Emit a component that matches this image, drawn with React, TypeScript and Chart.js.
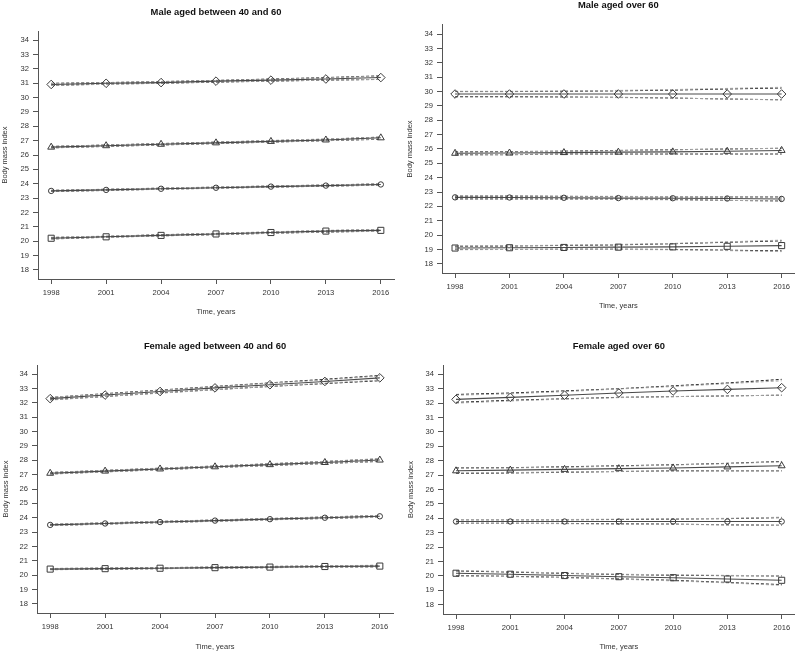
import React, { useEffect, useRef } from "react";
import { Chart, registerables } from "chart.js";

Chart.register(...registerables);

// ---------- axes ----------
const YEARS = [1998, 2001, 2004, 2007, 2010, 2013, 2016];
const Y_TICKS = [18, 19, 20, 21, 22, 23, 24, 25, 26, 27, 28, 29, 30, 31, 32, 33, 34];
const X_MIN = 1997.28;
const X_MAX = 2016.72;
const Y_MIN = 17.36;
const Y_MAX = 34.64;

const TITLES = [
  "Male aged between 40 and 60",
  "Male aged over 60",
  "Female aged between 40 and 60",
  "Female aged over 60",
];
const X_TITLE = "Time, years";
const Y_TITLE = "Body mass index";

// ---------- Panel 1: Male aged between 40 and 60 ----------
const m40_sq = [20.2, 20.3, 20.4, 20.5, 20.6, 20.7, 20.75];
const m40_sq_kLo = [20.15, 20.27, 20.37, 20.45, 20.55, 20.63, 20.7];
const m40_sq_kHi = [20.25, 20.33, 20.45, 20.53, 20.63, 20.73, 20.8];
const m40_sq_gLo = [20.17, 20.26, 20.36, 20.46, 20.54, 20.64, 20.68];
const m40_sq_gHi = [20.27, 20.35, 20.43, 20.55, 20.65, 20.75, 20.82];
const m40_ci = [23.5, 23.57, 23.65, 23.72, 23.8, 23.87, 23.95];
const m40_ci_kLo = [23.46, 23.53, 23.62, 23.69, 23.76, 23.83, 23.9];
const m40_ci_kHi = [23.54, 23.61, 23.69, 23.76, 23.84, 23.91, 23.99];
const m40_ci_gLo = [23.47, 23.54, 23.61, 23.68, 23.76, 23.84, 23.9];
const m40_ci_gHi = [23.53, 23.62, 23.7, 23.77, 23.85, 23.91, 24.0];
const m40_tr = [26.55, 26.65, 26.75, 26.85, 26.95, 27.05, 27.2];
const m40_tr_kLo = [26.5, 26.6, 26.7, 26.8, 26.9, 27.0, 27.1];
const m40_tr_kHi = [26.6, 26.7, 26.8, 26.9, 27.0, 27.1, 27.25];
const m40_tr_gLo = [26.5, 26.61, 26.71, 26.81, 26.9, 27.0, 27.12];
const m40_tr_gHi = [26.6, 26.7, 26.8, 26.9, 27.02, 27.12, 27.25];
const m40_di = [30.92, 31.0, 31.05, 31.15, 31.22, 31.3, 31.4];
const m40_di_kLo = [30.85, 30.95, 31.0, 31.08, 31.15, 31.22, 31.27];
const m40_di_kHi = [31.0, 31.05, 31.12, 31.2, 31.3, 31.4, 31.52];
const m40_di_gLo = [30.85, 30.93, 31.0, 31.1, 31.15, 31.22, 31.28];
const m40_di_gHi = [30.98, 31.05, 31.12, 31.2, 31.28, 31.38, 31.5];

// ---------- Panel 2: Male aged over 60 ----------
const m60_sq = [19.1, 19.12, 19.14, 19.16, 19.18, 19.22, 19.27];
const m60_sq_kLo = [19.0, 19.0, 19.02, 19.02, 19.0, 18.95, 18.9];
const m60_sq_kHi = [19.22, 19.24, 19.28, 19.32, 19.4, 19.5, 19.6];
const m60_sq_gLo = [18.98, 19.0, 19.0, 19.0, 18.98, 18.92, 18.85];
const m60_sq_gHi = [19.24, 19.26, 19.3, 19.35, 19.42, 19.53, 19.65];
const m60_ci = [22.63, 22.62, 22.6, 22.58, 22.57, 22.55, 22.52];
const m60_ci_kLo = [22.52, 22.52, 22.52, 22.5, 22.48, 22.42, 22.38];
const m60_ci_kHi = [22.72, 22.72, 22.7, 22.68, 22.66, 22.66, 22.66];
const m60_ci_gLo = [22.5, 22.5, 22.5, 22.48, 22.46, 22.42, 22.38];
const m60_ci_gHi = [22.75, 22.74, 22.7, 22.7, 22.68, 22.68, 22.66];
const m60_tr = [25.7, 25.72, 25.75, 25.78, 25.8, 25.84, 25.9];
const m60_tr_kLo = [25.6, 25.6, 25.65, 25.65, 25.65, 25.65, 25.65];
const m60_tr_kHi = [25.8, 25.82, 25.85, 25.9, 25.95, 26.0, 26.05];
const m60_tr_gLo = [25.58, 25.62, 25.64, 25.66, 25.66, 25.66, 25.65];
const m60_tr_gHi = [25.78, 25.8, 25.84, 25.88, 25.94, 26.0, 26.05];
const m60_di = [29.83, 29.83, 29.83, 29.83, 29.83, 29.83, 29.83];
const m60_di_kLo = [29.65, 29.65, 29.62, 29.6, 29.55, 29.48, 29.43];
const m60_di_kHi = [30.0, 30.0, 30.02, 30.05, 30.1, 30.18, 30.25];
const m60_di_gLo = [29.62, 29.62, 29.6, 29.58, 29.55, 29.48, 29.42];
const m60_di_gHi = [30.02, 30.02, 30.04, 30.08, 30.14, 30.22, 30.3];

// ---------- Panel 3: Female aged between 40 and 60 ----------
const f40_sq = [20.42, 20.45, 20.48, 20.52, 20.56, 20.6, 20.63];
const f40_sq_kLo = [20.38, 20.41, 20.45, 20.49, 20.52, 20.56, 20.58];
const f40_sq_kHi = [20.46, 20.49, 20.52, 20.56, 20.6, 20.64, 20.68];
const f40_sq_gLo = [20.39, 20.42, 20.45, 20.48, 20.52, 20.55, 20.59];
const f40_sq_gHi = [20.46, 20.48, 20.52, 20.56, 20.61, 20.65, 20.69];
const f40_ci = [23.5, 23.6, 23.7, 23.8, 23.9, 24.0, 24.1];
const f40_ci_kLo = [23.46, 23.56, 23.66, 23.76, 23.86, 23.95, 24.04];
const f40_ci_kHi = [23.54, 23.64, 23.74, 23.84, 23.94, 24.05, 24.15];
const f40_ci_gLo = [23.45, 23.55, 23.65, 23.75, 23.85, 23.95, 24.03];
const f40_ci_gHi = [23.55, 23.65, 23.75, 23.85, 23.95, 24.06, 24.16];
const f40_tr = [27.1, 27.25, 27.4, 27.55, 27.7, 27.85, 28.02];
const f40_tr_kLo = [27.05, 27.2, 27.35, 27.5, 27.64, 27.78, 27.93];
const f40_tr_kHi = [27.15, 27.3, 27.45, 27.6, 27.76, 27.92, 28.1];
const f40_tr_gLo = [27.04, 27.19, 27.34, 27.49, 27.63, 27.78, 27.92];
const f40_tr_gHi = [27.16, 27.31, 27.46, 27.61, 27.77, 27.93, 28.12];
const f40_di = [32.3, 32.55, 32.8, 33.05, 33.27, 33.5, 33.75];
const f40_di_kLo = [32.22, 32.45, 32.7, 32.93, 33.15, 33.35, 33.55];
const f40_di_kHi = [32.38, 32.65, 32.9, 33.15, 33.4, 33.65, 33.92];
const f40_di_gLo = [32.2, 32.45, 32.68, 32.92, 33.15, 33.38, 33.6];
const f40_di_gHi = [32.4, 32.62, 32.88, 33.12, 33.38, 33.6, 33.88];

// ---------- Panel 4: Female aged over 60 ----------
const f60_sq = [20.19, 20.12, 20.03, 19.95, 19.88, 19.79, 19.7];
const f60_sq_kLo = [20.02, 19.98, 19.9, 19.8, 19.7, 19.55, 19.4];
const f60_sq_kHi = [20.35, 20.27, 20.18, 20.1, 20.05, 20.02, 20.0];
const f60_sq_gLo = [20.0, 19.96, 19.88, 19.78, 19.66, 19.52, 19.35];
const f60_sq_gHi = [20.38, 20.3, 20.2, 20.12, 20.08, 20.04, 20.02];
const f60_ci = [23.78, 23.78, 23.78, 23.78, 23.78, 23.78, 23.78];
const f60_ci_kLo = [23.66, 23.66, 23.65, 23.62, 23.6, 23.55, 23.52];
const f60_ci_kHi = [23.9, 23.9, 23.9, 23.92, 23.95, 23.98, 24.05];
const f60_ci_gLo = [23.65, 23.65, 23.63, 23.6, 23.58, 23.55, 23.5];
const f60_ci_gHi = [23.92, 23.92, 23.92, 23.94, 23.97, 24.0, 24.08];
const f60_tr = [27.3, 27.35, 27.4, 27.45, 27.5, 27.57, 27.65];
const f60_tr_kLo = [27.12, 27.15, 27.2, 27.25, 27.3, 27.3, 27.3];
const f60_tr_kHi = [27.5, 27.52, 27.58, 27.65, 27.72, 27.82, 27.95];
const f60_tr_gLo = [27.15, 27.18, 27.22, 27.26, 27.28, 27.3, 27.3];
const f60_tr_gHi = [27.48, 27.5, 27.55, 27.62, 27.7, 27.8, 27.92];
const f60_di = [32.26, 32.4, 32.55, 32.7, 32.84, 32.95, 33.07];
const f60_di_kLo = [32.05, 32.2, 32.3, 32.4, 32.45, 32.5, 32.55];
const f60_di_kHi = [32.6, 32.7, 32.85, 33.0, 33.2, 33.4, 33.65];
const f60_di_gLo = [32.0, 32.15, 32.28, 32.38, 32.45, 32.5, 32.55];
const f60_di_gHi = [32.55, 32.65, 32.8, 32.98, 33.15, 33.35, 33.55];

// ---------- assembly ----------
type Series = { mid: number[]; kLo: number[]; kHi: number[]; gLo: number[]; gHi: number[] };

const PANEL_SERIES: Series[][] = [
  [
    { mid: m40_sq, kLo: m40_sq_kLo, kHi: m40_sq_kHi, gLo: m40_sq_gLo, gHi: m40_sq_gHi },
    { mid: m40_ci, kLo: m40_ci_kLo, kHi: m40_ci_kHi, gLo: m40_ci_gLo, gHi: m40_ci_gHi },
    { mid: m40_tr, kLo: m40_tr_kLo, kHi: m40_tr_kHi, gLo: m40_tr_gLo, gHi: m40_tr_gHi },
    { mid: m40_di, kLo: m40_di_kLo, kHi: m40_di_kHi, gLo: m40_di_gLo, gHi: m40_di_gHi },
  ],
  [
    { mid: m60_sq, kLo: m60_sq_kLo, kHi: m60_sq_kHi, gLo: m60_sq_gLo, gHi: m60_sq_gHi },
    { mid: m60_ci, kLo: m60_ci_kLo, kHi: m60_ci_kHi, gLo: m60_ci_gLo, gHi: m60_ci_gHi },
    { mid: m60_tr, kLo: m60_tr_kLo, kHi: m60_tr_kHi, gLo: m60_tr_gLo, gHi: m60_tr_gHi },
    { mid: m60_di, kLo: m60_di_kLo, kHi: m60_di_kHi, gLo: m60_di_gLo, gHi: m60_di_gHi },
  ],
  [
    { mid: f40_sq, kLo: f40_sq_kLo, kHi: f40_sq_kHi, gLo: f40_sq_gLo, gHi: f40_sq_gHi },
    { mid: f40_ci, kLo: f40_ci_kLo, kHi: f40_ci_kHi, gLo: f40_ci_gLo, gHi: f40_ci_gHi },
    { mid: f40_tr, kLo: f40_tr_kLo, kHi: f40_tr_kHi, gLo: f40_tr_gLo, gHi: f40_tr_gHi },
    { mid: f40_di, kLo: f40_di_kLo, kHi: f40_di_kHi, gLo: f40_di_gLo, gHi: f40_di_gHi },
  ],
  [
    { mid: f60_sq, kLo: f60_sq_kLo, kHi: f60_sq_kHi, gLo: f60_sq_gLo, gHi: f60_sq_gHi },
    { mid: f60_ci, kLo: f60_ci_kLo, kHi: f60_ci_kHi, gLo: f60_ci_gLo, gHi: f60_ci_gHi },
    { mid: f60_tr, kLo: f60_tr_kLo, kHi: f60_tr_kHi, gLo: f60_tr_gLo, gHi: f60_tr_gHi },
    { mid: f60_di, kLo: f60_di_kLo, kHi: f60_di_kHi, gLo: f60_di_gLo, gHi: f60_di_gHi },
  ],
];

const MARKERS = ["rect", "circle", "triangle", "rectRot"];
const MARKER_RADII = [4.3, 2.7, 4.0, 4.3];

// layout of each panel (canvas position and plot area inside canvas)
const LAYOUTS = [
  { x: 0, y: 0, w: 400, h: 320, l: 38, r: 394, b: 279, tPadTop: 6.4, tPadBot: 13.4, yTitlePad: 0.8, xTitlePad: 3.5 },
  { x: 400, y: 0, w: 400, h: 320, l: 42, r: 397, b: 273, tPadTop: 0, tPadBot: 13.7, yTitlePad: 5.8, xTitlePad: 9.8 },
  { x: 0, y: 320, w: 400, h: 334, l: 37, r: 393, b: 293, tPadTop: 20.4, tPadBot: 13.4, yTitlePad: 1.2, xTitlePad: 2.8 },
  { x: 400, y: 320, w: 400, h: 334, l: 43, r: 397, b: 294, tPadTop: 21.1, tPadBot: 12.7, yTitlePad: 6.2, xTitlePad: 2.2 },
];

const FONT = "'Liberation Sans', Arial, Helvetica, sans-serif";
const AXIS_COLOR = "#555555";
const TEXT_COLOR = "#333333";

const pts = (arr: number[]) => YEARS.map((x, i) => ({ x, y: arr[i] }));

function buildDatasets(series: Series[]) {
  const ds: any[] = [];
  series.forEach((s, i) => {
    const band = (data: number[], color: string, order: number) => ({
      data: pts(data),
      borderColor: color,
      borderWidth: 1,
      borderDash: [3, 2],
      pointRadius: 0,
      tension: 0,
      fill: false,
      order,
    });
    ds.push(band(s.kLo, "#1a1a1a", 2));
    ds.push(band(s.kHi, "#1a1a1a", 2));
    ds.push(band(s.gLo, "#a6a6a6", 1));
    ds.push(band(s.gHi, "#a6a6a6", 1));
    ds.push({
      data: pts(s.mid),
      borderColor: "#4a4a4a",
      borderWidth: 1.1,
      tension: 0,
      fill: false,
      pointStyle: MARKERS[i],
      pointRadius: MARKER_RADII[i],
      pointBorderColor: "#3a3a3a",
      pointBorderWidth: 1,
      pointBackgroundColor: "rgba(255,255,255,0)",
      order: 0,
    });
  });
  return ds;
}

function Panel({ idx }: { idx: number }) {
  const ref = useRef<HTMLCanvasElement>(null);
  const L = LAYOUTS[idx];
  useEffect(() => {
    if (!ref.current) return;
    const tickFont = { family: FONT, size: 7.6 };
    const titleFont = { family: FONT, size: 7.5 };
    const chart = new Chart(ref.current, {
      type: "line",
      data: { datasets: buildDatasets(PANEL_SERIES[idx]) },
      options: {
        animation: false,
        responsive: false,
        maintainAspectRatio: false,
        events: [],
        layout: { padding: { left: 0, right: L.w - L.r, top: 0, bottom: 0 } },
        plugins: {
          legend: { display: false },
          tooltip: { enabled: false },
          title: {
            display: true,
            text: TITLES[idx],
            fullSize: false,
            color: "#111111",
            font: { family: FONT, size: 9.4, weight: "bold" },
            padding: { top: L.tPadTop, bottom: L.tPadBot },
          },
        },
        scales: {
          x: {
            type: "linear",
            min: X_MIN,
            max: X_MAX,
            afterBuildTicks: (s: any) => {
              s.ticks = YEARS.map((v) => ({ value: v }));
            },
            afterFit: (s: any) => {
              s.height = L.h - L.b;
            },
            ticks: {
              autoSkip: false,
              maxRotation: 0,
              minRotation: 0,
              padding: 4,
              color: TEXT_COLOR,
              font: tickFont,
              callback: (v: any) => String(v),
            },
            grid: {
              display: true,
              drawOnChartArea: false,
              drawTicks: true,
              tickLength: 5,
              color: AXIS_COLOR,
              tickColor: AXIS_COLOR,
            },
            border: { display: true, color: AXIS_COLOR, width: 1 },
            title: {
              display: true,
              text: X_TITLE,
              color: TEXT_COLOR,
              font: titleFont,
              padding: { top: 0, bottom: L.xTitlePad },
            },
          },
          y: {
            type: "linear",
            min: Y_MIN,
            max: Y_MAX,
            afterBuildTicks: (s: any) => {
              s.ticks = Y_TICKS.map((v) => ({ value: v }));
            },
            afterFit: (s: any) => {
              s.width = L.l;
            },
            ticks: {
              autoSkip: false,
              padding: 4,
              color: TEXT_COLOR,
              font: tickFont,
              callback: (v: any) => String(v),
            },
            grid: {
              display: true,
              drawOnChartArea: false,
              drawTicks: true,
              tickLength: 5,
              color: AXIS_COLOR,
              tickColor: AXIS_COLOR,
            },
            border: { display: true, color: AXIS_COLOR, width: 1 },
            title: {
              display: true,
              text: Y_TITLE,
              color: TEXT_COLOR,
              font: titleFont,
              padding: { top: L.yTitlePad, bottom: 0 },
            },
          },
        },
      } as any,
    });
    return () => chart.destroy();
  }, [idx]);
  return (
    <canvas
      ref={ref}
      width={L.w}
      height={L.h}
      style={{ position: "absolute", left: L.x, top: L.y, width: L.w, height: L.h }}
    />
  );
}

export default function App() {
  return (
    <div
      style={{
        position: "absolute",
        left: 0,
        top: 0,
        width: 800,
        height: 654,
        background: "#ffffff",
        overflow: "hidden",
      }}
    >
      {[0, 1, 2, 3].map((i) => (
        <Panel key={i} idx={i} />
      ))}
    </div>
  );
}
